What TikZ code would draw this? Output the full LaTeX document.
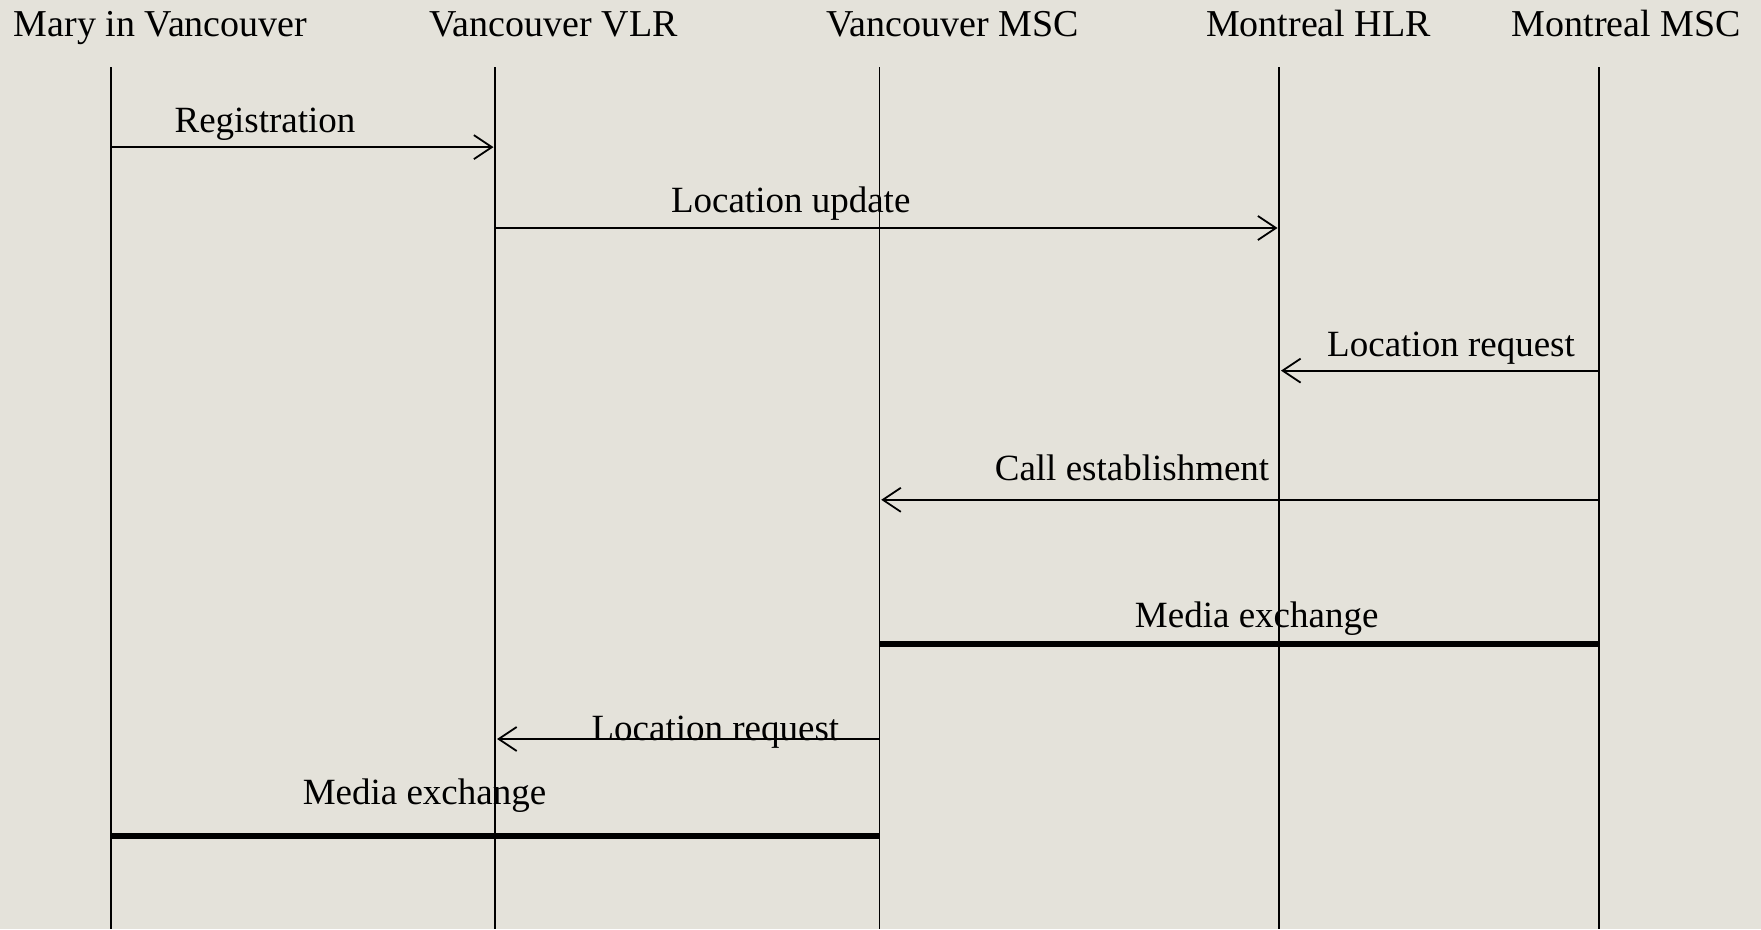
\documentclass[tikz,border=0pt]{standalone}
\usepackage{fontspec}
\setmainfont{Liberation Serif}
\usetikzlibrary{arrows.meta}
\definecolor{paper}{RGB}{228,226,218}
\begin{document}
\begin{tikzpicture}[x=1pt,y=-1pt,
  txt/.style={font=\fontsize{37}{44}\selectfont, anchor=base, inner sep=0pt},
  head/.style={font=\fontsize{38}{45}\selectfont, anchor=base, inner sep=0pt},
  lifeline/.style={line width=1.8pt},
  msg/.style={line width=1.8pt, -{Straight Barb[length=18pt,width=24pt,line width=1.8pt]}},
  media/.style={line width=6pt},
]
\fill[paper] (0,0) rectangle (1761,929);
\useasboundingbox (0,0) rectangle (1761,929);

% participants
\node[head] (mary) at (160.6,36.5) {Mary in Vancouver};
\node[head] (vlr)  at (553.7,36.5) {Vancouver VLR};
\node[head] (vmsc) at (952.4,36.5) {Vancouver MSC};
\node[head] (hlr)  at (1318.5,36.5) {Montreal HLR};
\node[head] (mmsc) at (1626.3,36.5) {Montreal MSC};

% lifelines
\coordinate (maryT) at (111.2,67.4);  \coordinate (maryB) at (111.2,929);
\coordinate (vlrT)  at (495.3,67.4);  \coordinate (vlrB)  at (495.3,929);
\coordinate (vmscT) at (879.4,67.4);  \coordinate (vmscB) at (879.4,929);
\coordinate (hlrT)  at (1279.2,67.4); \coordinate (hlrB)  at (1279.2,929);
\coordinate (mmscT) at (1599.3,67.4); \coordinate (mmscB) at (1599.3,929);
\foreach \p in {mary,vlr,vmsc,hlr,mmsc}
  \draw[lifeline] (\p T) -- (\p B);

% messages
\coordinate (r1) at (111.2,147.1);  \coordinate (r2) at (493.5,147.1);
\draw[msg] (r1) -- (r2);
\node[txt] (lreg) at (265,132.5) {Registration};

\coordinate (u1) at (495.3,228);    \coordinate (u2) at (1277.5,228);
\draw[msg] (u1) -- (u2);
\node[txt] (lupd) at (790.7,212.3) {Location update};

\coordinate (q1) at (1599.3,370.6); \coordinate (q2) at (1281,370.6);
\draw[msg] (q1) -- (q2);
\node[txt] (lreq) at (1451,356) {Location request};

\coordinate (c1) at (1599.3,499.8); \coordinate (c2) at (881.2,499.8);
\draw[msg] (c1) -- (c2);
\node[txt] (lcall) at (1132,480.7) {Call establishment};

\coordinate (m1) at (879.4,643.5);  \coordinate (m2) at (1599.3,643.5);
\draw[media] (m1) -- (m2);
\node[txt] (lmed) at (1256.7,627.8) {Media exchange};

\coordinate (s1) at (879.4,739);    \coordinate (s2) at (497.1,739);
\draw[msg] (s1) -- (s2);
\node[txt] (lreq2) at (715.4,740.1) {Location request};

\coordinate (e1) at (111.2,835.6);  \coordinate (e2) at (879.4,835.6);
\draw[media] (e1) -- (e2);
\node[txt] (lmed2) at (424.5,804.1) {Media exchange};
\end{tikzpicture}
\end{document}
